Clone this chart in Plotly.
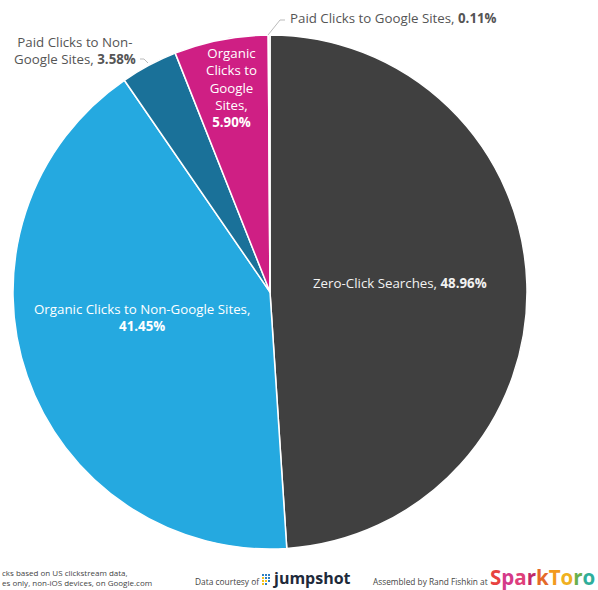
import plotly.graph_objects as go

# ---- data ----
labels = ["Zero-Click Searches", "Organic Clicks to Non-Google Sites",
          "Paid Clicks to Non-Google Sites", "Organic Clicks to Google Sites",
          "Paid Clicks to Google Sites"]
values = [48.96, 41.45, 3.58, 5.90, 0.11]
colors = ["#404040", "#25a9e0", "#1a7199", "#cf1f84", "#d8d8d8"]

W, H = 598, 590
FONT = "Open Sans"

fig = go.Figure(go.Pie(
    labels=labels, values=values, sort=False, direction="clockwise", rotation=0,
    marker=dict(colors=colors, line=dict(color="white", width=1.5)),
    textinfo="none", hoverinfo="label+percent", showlegend=False,
    domain=dict(x=[13 / W, 527 / W], y=[1 - 549 / H, 1 - 35 / H]),
))

def px(x, y):
    return x / W, 1 - y / H

def lab(i):
    return f"{labels[i]}, <b>{values[i]:.2f}%</b>"

ann = []
def add(text, x, y, color, size=13.3, xanchor="center", yanchor="middle", align="center"):
    ax, ay = px(x, y)
    ann.append(dict(text=text, x=ax, y=ay, xref="paper", yref="paper", showarrow=False,
                    xanchor=xanchor, yanchor=yanchor, align=align,
                    font=dict(family=FONT, size=size, color=color)))

# inside labels
add(lab(0), 400, 283, "#f2f2f2")
add(f"{labels[1]},<br><b>{values[1]:.2f}%</b>", 142, 317, "#ffffff")
add(f"Organic<br>Clicks to<br>Google<br>Sites,<br><b>{values[3]:.2f}%</b>", 231, 87, "#ffffff")
# outside labels
add(f"Paid Clicks to Non-<br>Google Sites, <b>{values[2]:.2f}%</b>", 75, 50, "#555555")
add(lab(4), 288, 18, "#555555", xanchor="left")

# footer
add("cks based on US clickstream data,<br>es only, non-iOS devices, on Google.com", 0, 577,
    "#444444", size=8, xanchor="left", align="left")
add("Data courtesy of", 193, 581, "#444444", size=8.4, xanchor="left")
add("<b>jumpshot</b>", 270, 578, "#1e2a3a", size=16, xanchor="left")
add("Assembled by Rand Fishkin at", 371, 581, "#444444", size=8.3, xanchor="left")
spark = [("S", "#e8433f"), ("p", "#d43a8a"), ("a", "#e0407a"), ("r", "#c02a6a"),
         ("k", "#e46a2a"), ("T", "#f29a1f"), ("o", "#f0b020"), ("r", "#6ab04c"), ("o", "#2fae9a")]
add("<b>" + "".join(f"<span style='color:{c}'>{ch}</span>" for ch, c in spark) + "</b>",
    488, 577, "#e8433f", size=20.5, xanchor="left")

# jumpshot icon squares
shapes = []
icon = [(0, 0, "#2d7fc1"), (1, 0, "#2d7fc1"), (2, 0, "#2d7fc1"),
        (0, 1, "#f4c21a"), (1, 1, "#2d7fc1"), (2, 1, "#2d7fc1"),
        (0, 2, "#f4c21a"), (1, 2, "#f4c21a"), (2, 2, "#2d7fc1"),
        (0, 3, "#f4c21a"), (1, 3, "#2d7fc1")]
for cx, cy, c in icon:
    x0, y0 = 262 + cx * 3, 574 + cy * 3
    a0, b0 = px(x0, y0)
    a1, b1 = px(x0 + 2, y0 + 2)
    shapes.append(dict(type="rect", xref="paper", yref="paper", x0=a0, x1=a1, y0=b1, y1=b0,
                       line=dict(width=0), fillcolor=c))

# leader lines
def line(pts):
    p = [px(*q) for q in pts]
    path = "M " + " L ".join(f"{a},{b}" for a, b in p)
    return dict(type="path", path=path, xref="paper", yref="paper",
                line=dict(color="#bbbbbb", width=1))
shapes.append(line([(268, 35), (280, 20), (285, 20)]))
shapes.append(line([(140, 59), (144, 59), (148, 63)]))

fig.update_layout(width=W, height=H, margin=dict(l=0, r=0, t=0, b=0),
                  paper_bgcolor="white", plot_bgcolor="white",
                  annotations=ann, shapes=shapes)
fig.write_html("out.html")
